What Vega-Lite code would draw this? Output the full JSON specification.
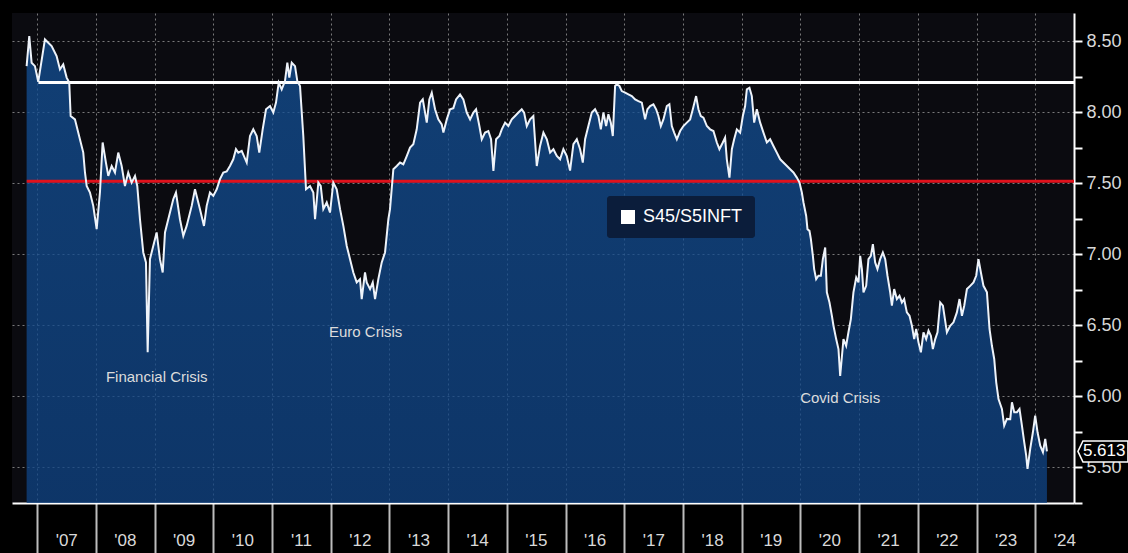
{
"$schema": "https://vega.github.io/schema/vega-lite/v6.json",
"width": 1062, "height": 490,
"autosize": {"type": "none"},
"padding": {"left": 12, "top": 13, "right": 54, "bottom": 50},
"background": "#000000",
"config": {"view": {"fill": "#0b0b10", "stroke": null}, "font": "Liberation Sans"},
"data": {"values": [
{"t":2006.819,"v":8.326},{"t":2006.864,"v":8.537},{"t":2006.904,"v":8.350},{"t":2006.961,"v":8.326},{"t":2007.017,"v":8.215},{"t":2007.131,"v":8.514},{"t":2007.245,"v":8.467},{"t":2007.330,"v":8.397},{"t":2007.387,"v":8.303},{"t":2007.443,"v":8.338},{"t":2007.501,"v":8.245},{"t":2007.545,"v":8.210},{"t":2007.569,"v":7.975},{"t":2007.642,"v":7.951},{"t":2007.727,"v":7.811},{"t":2007.784,"v":7.717},{"t":2007.813,"v":7.577},{"t":2007.842,"v":7.482},{"t":2007.898,"v":7.436},{"t":2007.954,"v":7.342},
{"t":2008.012,"v":7.178},{"t":2008.068,"v":7.436},{"t":2008.114,"v":7.788},{"t":2008.170,"v":7.647},{"t":2008.210,"v":7.553},{"t":2008.268,"v":7.623},{"t":2008.324,"v":7.577},{"t":2008.380,"v":7.717},{"t":2008.438,"v":7.623},{"t":2008.494,"v":7.482},{"t":2008.550,"v":7.577},{"t":2008.608,"v":7.506},{"t":2008.665,"v":7.553},{"t":2008.704,"v":7.482},{"t":2008.750,"v":7.248},{"t":2008.806,"v":7.014},{"t":2008.852,"v":6.944},{"t":2008.881,"v":6.311},{"t":2008.920,"v":6.967},{"t":2008.976,"v":7.060},
{"t":2009.034,"v":7.155},{"t":2009.090,"v":6.967},{"t":2009.137,"v":6.873},{"t":2009.176,"v":7.155},{"t":2009.232,"v":7.248},{"t":2009.317,"v":7.389},{"t":2009.363,"v":7.436},{"t":2009.431,"v":7.248},{"t":2009.488,"v":7.131},{"t":2009.545,"v":7.201},{"t":2009.631,"v":7.342},{"t":2009.687,"v":7.459},{"t":2009.772,"v":7.319},{"t":2009.840,"v":7.201},{"t":2009.886,"v":7.342},{"t":2009.942,"v":7.436},{"t":2009.999,"v":7.412},
{"t":2010.057,"v":7.459},{"t":2010.113,"v":7.530},{"t":2010.169,"v":7.577},{"t":2010.227,"v":7.584},{"t":2010.283,"v":7.623},{"t":2010.339,"v":7.670},{"t":2010.385,"v":7.741},{"t":2010.425,"v":7.717},{"t":2010.483,"v":7.729},{"t":2010.568,"v":7.647},{"t":2010.624,"v":7.834},{"t":2010.680,"v":7.881},{"t":2010.738,"v":7.834},{"t":2010.782,"v":7.717},{"t":2010.840,"v":7.881},{"t":2010.897,"v":8.022},{"t":2010.965,"v":8.045},
{"t":2011.021,"v":7.999},{"t":2011.067,"v":8.069},{"t":2011.113,"v":8.210},{"t":2011.164,"v":8.162},{"t":2011.220,"v":8.221},{"t":2011.260,"v":8.350},{"t":2011.294,"v":8.245},{"t":2011.335,"v":8.350},{"t":2011.391,"v":8.326},{"t":2011.430,"v":8.221},{"t":2011.476,"v":8.186},{"t":2011.532,"v":7.834},{"t":2011.578,"v":7.459},{"t":2011.646,"v":7.482},{"t":2011.703,"v":7.436},{"t":2011.732,"v":7.248},{"t":2011.788,"v":7.506},{"t":2011.829,"v":7.482},{"t":2011.873,"v":7.319},{"t":2011.931,"v":7.366},{"t":2011.987,"v":7.295},
{"t":2012.043,"v":7.506},{"t":2012.101,"v":7.459},{"t":2012.158,"v":7.319},{"t":2012.214,"v":7.201},{"t":2012.272,"v":7.060},{"t":2012.328,"v":6.967},{"t":2012.384,"v":6.873},{"t":2012.442,"v":6.803},{"t":2012.498,"v":6.826},{"t":2012.527,"v":6.686},{"t":2012.583,"v":6.873},{"t":2012.612,"v":6.803},{"t":2012.669,"v":6.756},{"t":2012.715,"v":6.803},{"t":2012.754,"v":6.686},{"t":2012.810,"v":6.826},{"t":2012.868,"v":6.944},{"t":2012.924,"v":7.014},{"t":2012.981,"v":7.248},
{"t":2013.009,"v":7.319},{"t":2013.066,"v":7.600},{"t":2013.124,"v":7.623},{"t":2013.180,"v":7.647},{"t":2013.236,"v":7.635},{"t":2013.294,"v":7.693},{"t":2013.350,"v":7.752},{"t":2013.406,"v":7.776},{"t":2013.464,"v":7.881},{"t":2013.521,"v":8.069},{"t":2013.567,"v":8.092},{"t":2013.606,"v":7.999},{"t":2013.635,"v":7.928},{"t":2013.679,"v":8.092},{"t":2013.720,"v":8.139},{"t":2013.776,"v":8.022},{"t":2013.832,"v":7.951},{"t":2013.890,"v":7.916},{"t":2013.918,"v":7.858},{"t":2013.976,"v":7.951},
{"t":2014.032,"v":8.022},{"t":2014.088,"v":8.030},{"t":2014.134,"v":8.092},{"t":2014.202,"v":8.127},{"t":2014.258,"v":8.092},{"t":2014.316,"v":7.999},{"t":2014.373,"v":7.951},{"t":2014.429,"v":7.999},{"t":2014.475,"v":8.022},{"t":2014.531,"v":7.904},{"t":2014.572,"v":7.811},{"t":2014.628,"v":7.858},{"t":2014.684,"v":7.869},{"t":2014.730,"v":7.811},{"t":2014.770,"v":7.588},{"t":2014.816,"v":7.811},{"t":2014.872,"v":7.834},{"t":2014.913,"v":7.881},{"t":2014.969,"v":7.928},
{"t":2015.025,"v":7.904},{"t":2015.083,"v":7.951},{"t":2015.139,"v":7.975},{"t":2015.196,"v":7.999},{"t":2015.253,"v":8.022},{"t":2015.293,"v":7.999},{"t":2015.339,"v":7.904},{"t":2015.395,"v":7.951},{"t":2015.451,"v":7.975},{"t":2015.509,"v":7.623},{"t":2015.565,"v":7.764},{"t":2015.622,"v":7.858},{"t":2015.680,"v":7.811},{"t":2015.736,"v":7.717},{"t":2015.792,"v":7.741},{"t":2015.850,"v":7.693},{"t":2015.906,"v":7.670},{"t":2015.962,"v":7.741},
{"t":2016.020,"v":7.693},{"t":2016.076,"v":7.590},{"t":2016.133,"v":7.776},{"t":2016.191,"v":7.811},{"t":2016.247,"v":7.741},{"t":2016.293,"v":7.647},{"t":2016.332,"v":7.811},{"t":2016.388,"v":7.904},{"t":2016.446,"v":7.999},{"t":2016.502,"v":8.022},{"t":2016.559,"v":7.975},{"t":2016.600,"v":7.881},{"t":2016.644,"v":7.999},{"t":2016.690,"v":7.904},{"t":2016.729,"v":7.987},{"t":2016.770,"v":7.928},{"t":2016.804,"v":7.834},{"t":2016.843,"v":8.186},{"t":2016.872,"v":8.198},{"t":2016.917,"v":8.186},{"t":2016.957,"v":8.150},
{"t":2017.014,"v":8.139},{"t":2017.070,"v":8.127},{"t":2017.128,"v":8.115},{"t":2017.184,"v":8.092},{"t":2017.240,"v":8.080},{"t":2017.298,"v":8.069},{"t":2017.354,"v":7.951},{"t":2017.394,"v":8.022},{"t":2017.440,"v":8.045},{"t":2017.496,"v":8.057},{"t":2017.542,"v":8.022},{"t":2017.581,"v":7.975},{"t":2017.622,"v":7.904},{"t":2017.666,"v":7.951},{"t":2017.724,"v":8.045},{"t":2017.768,"v":8.057},{"t":2017.809,"v":7.904},{"t":2017.849,"v":7.858},{"t":2017.895,"v":7.811},{"t":2017.951,"v":7.869},
{"t":2018.007,"v":7.904},{"t":2018.065,"v":7.928},{"t":2018.121,"v":7.951},{"t":2018.167,"v":8.022},{"t":2018.223,"v":8.115},{"t":2018.263,"v":8.022},{"t":2018.303,"v":7.975},{"t":2018.348,"v":7.963},{"t":2018.406,"v":7.904},{"t":2018.462,"v":7.881},{"t":2018.518,"v":7.869},{"t":2018.576,"v":7.788},{"t":2018.620,"v":7.741},{"t":2018.678,"v":7.788},{"t":2018.717,"v":7.823},{"t":2018.746,"v":7.670},{"t":2018.791,"v":7.541},{"t":2018.832,"v":7.741},{"t":2018.871,"v":7.811},{"t":2018.917,"v":7.881},{"t":2018.973,"v":7.858},
{"t":2019.019,"v":7.975},{"t":2019.058,"v":8.045},{"t":2019.087,"v":8.162},{"t":2019.132,"v":8.174},{"t":2019.172,"v":8.115},{"t":2019.212,"v":7.928},{"t":2019.257,"v":8.022},{"t":2019.314,"v":7.928},{"t":2019.370,"v":7.858},{"t":2019.428,"v":7.788},{"t":2019.484,"v":7.811},{"t":2019.540,"v":7.764},{"t":2019.598,"v":7.717},{"t":2019.655,"v":7.670},{"t":2019.740,"v":7.635},{"t":2019.825,"v":7.600},{"t":2019.881,"v":7.577},{"t":2019.939,"v":7.541},{"t":2019.984,"v":7.506},
{"t":2020.024,"v":7.436},{"t":2020.052,"v":7.366},{"t":2020.098,"v":7.271},{"t":2020.120,"v":7.178},{"t":2020.154,"v":7.166},{"t":2020.178,"v":7.108},{"t":2020.212,"v":6.990},{"t":2020.234,"v":6.897},{"t":2020.268,"v":6.826},{"t":2020.307,"v":6.850},{"t":2020.348,"v":6.850},{"t":2020.382,"v":6.967},{"t":2020.422,"v":7.049},{"t":2020.450,"v":6.733},{"t":2020.495,"v":6.662},{"t":2020.536,"v":6.568},{"t":2020.563,"v":6.498},{"t":2020.609,"v":6.404},{"t":2020.648,"v":6.334},{"t":2020.677,"v":6.144},{"t":2020.733,"v":6.404},{"t":2020.779,"v":6.357},{"t":2020.818,"v":6.452},{"t":2020.859,"v":6.545},{"t":2020.903,"v":6.733},{"t":2020.950,"v":6.838},{"t":2020.989,"v":6.803},
{"t":2021.018,"v":6.990},{"t":2021.047,"v":6.897},{"t":2021.074,"v":6.733},{"t":2021.120,"v":6.779},{"t":2021.159,"v":6.967},{"t":2021.200,"v":6.990},{"t":2021.234,"v":7.072},{"t":2021.273,"v":6.944},{"t":2021.312,"v":6.897},{"t":2021.358,"v":6.967},{"t":2021.404,"v":7.014},{"t":2021.444,"v":6.967},{"t":2021.483,"v":6.850},{"t":2021.529,"v":6.733},{"t":2021.558,"v":6.639},{"t":2021.597,"v":6.756},{"t":2021.643,"v":6.686},{"t":2021.687,"v":6.709},{"t":2021.728,"v":6.662},{"t":2021.767,"v":6.686},{"t":2021.813,"v":6.592},{"t":2021.858,"v":6.568},{"t":2021.899,"v":6.498},{"t":2021.938,"v":6.404},{"t":2021.972,"v":6.475},
{"t":2022.011,"v":6.381},{"t":2022.052,"v":6.311},{"t":2022.096,"v":6.452},{"t":2022.142,"v":6.404},{"t":2022.182,"v":6.463},{"t":2022.222,"v":6.428},{"t":2022.256,"v":6.334},{"t":2022.296,"v":6.404},{"t":2022.335,"v":6.452},{"t":2022.381,"v":6.662},{"t":2022.427,"v":6.639},{"t":2022.495,"v":6.452},{"t":2022.551,"v":6.498},{"t":2022.607,"v":6.522},{"t":2022.665,"v":6.592},{"t":2022.710,"v":6.686},{"t":2022.751,"v":6.568},{"t":2022.790,"v":6.639},{"t":2022.836,"v":6.756},{"t":2022.892,"v":6.779},{"t":2022.948,"v":6.803},{"t":2022.994,"v":6.850},
{"t":2023.033,"v":6.967},{"t":2023.074,"v":6.873},{"t":2023.118,"v":6.779},{"t":2023.177,"v":6.733},{"t":2023.221,"v":6.475},{"t":2023.262,"v":6.357},{"t":2023.301,"v":6.264},{"t":2023.335,"v":6.100},{"t":2023.374,"v":5.982},{"t":2023.432,"v":5.912},{"t":2023.471,"v":5.795},{"t":2023.517,"v":5.842},{"t":2023.574,"v":5.840},{"t":2023.603,"v":5.959},{"t":2023.642,"v":5.889},{"t":2023.688,"v":5.889},{"t":2023.732,"v":5.912},{"t":2023.773,"v":5.795},{"t":2023.812,"v":5.678},{"t":2023.846,"v":5.584},{"t":2023.868,"v":5.490},{"t":2023.914,"v":5.631},{"t":2023.960,"v":5.748},{"t":2023.999,"v":5.865},
{"t":2024.039,"v":5.748},{"t":2024.085,"v":5.654},{"t":2024.131,"v":5.608},{"t":2024.170,"v":5.701},{"t":2024.199,"v":5.613}
]},
"encoding": {
  "x": {"field": "t", "type": "quantitative",
    "scale": {"domain": [2006.57, 2024.66], "nice": false, "zero": false},
    "axis": {"orient": "bottom", "title": null,
      "values": [2007,2008,2009,2010,2011,2012,2013,2014,2015,2016,2017,2018,2019,2020,2021,2022,2023,2024],
      "labelExpr": "\"'\" + substring(toString(datum.value), 2, 4)",
      "labelOffset": 29, "labelPadding": -13, "labelBaseline": "middle", "labelAlign": "center",
      "labelFontSize": 17, "labelColor": "#d9d9d9", "labelFont": "Liberation Sans",
      "labelFlush": false, "labelOverlap": false,
      "domainColor": "#ffffff", "domainWidth": 2,
      "tickColor": "#bdbdbd", "tickWidth": 2, "tickSize": 50,
      "grid": true, "gridColor": "#a8a8a8", "gridDash": [2, 3], "gridOpacity": 0.7}},
  "y": {"field": "v", "type": "quantitative",
    "scale": {"domain": [5.25, 8.7], "nice": false, "zero": false},
    "axis": {"orient": "right", "title": null,
      "values": [5.25,5.5,5.75,6,6.25,6.5,6.75,7,7.25,7.5,7.75,8,8.25,8.5],
      "labelExpr": "datum.value % 0.5 == 0 ? format(datum.value, '.2f') : ''",
      "labelPadding": 4, "labelColor": "#d8d8d8", "labelFontSize": 18, "labelFont": "Liberation Sans",
      "labelBaseline": "middle", "labelOverlap": false, "labelFlush": false,
      "domainColor": "#ffffff", "domainWidth": 2,
      "tickColor": "#ffffff", "tickWidth": 2, "tickSize": 8,
      "grid": true, "gridColor": "#a8a8a8", "gridDash": [2, 3],
      "gridOpacity": {"condition": {"test": "datum.value % 0.5 != 0", "value": 0}, "value": 0.7}}}
},
"layer": [
  {"mark": {"type": "area", "fillOpacity": 0.76, "clip": true,
     "color": {"gradient": "linear", "x1": 0, "y1": 0, "x2": 0, "y2": 1,
       "stops": [{"offset": 0, "color": "#134f94"}, {"offset": 1, "color": "#072f69"}]}}},
  {"data": {"values": [{"level": 8.21, "start": 2007.02, "end": 2024.66}]},
   "mark": {"type": "rule", "color": "#ffffff", "strokeWidth": 3},
   "encoding": {"x": {"field": "start", "type": "quantitative"}, "x2": {"field": "end"}, "y": {"field": "level", "type": "quantitative"}}},
  {"data": {"values": [{"level": 7.515, "start": 2006.82, "end": 2024.66}]},
   "mark": {"type": "rule", "color": "#e0121c", "strokeWidth": 3},
   "encoding": {"x": {"field": "start", "type": "quantitative"}, "x2": {"field": "end"}, "y": {"field": "level", "type": "quantitative"}}},
  {"mark": {"type": "line", "strokeWidth": 2, "clip": true},
   "encoding": {"color": {"datum": "S45/S5INFT", "type": "nominal", "scale": {"range": ["#eef3fa"]},
     "legend": {"title": null, "orient": "none", "legendX": 595, "legendY": 183,
       "fillColor": "#0b1d3b", "padding": 12, "cornerRadius": 3,
       "symbolType": "square", "symbolSize": 196, "symbolStrokeWidth": 0,
       "labelColor": "#ffffff", "labelFontSize": 18, "labelFont": "Liberation Sans", "labelOffset": 6,
       "encode": {"symbols": {"update": {"fill": {"value": "#ffffff"}, "stroke": {"value": "#ffffff"}, "strokeWidth": {"value": 0}, "opacity": {"value": 1}}}}}}}},
  {"data": {"values": [
     {"label": "Financial Crisis", "t": 2008.17, "v": 6.137},
     {"label": "Euro Crisis", "t": 2011.97, "v": 6.453},
     {"label": "Covid Crisis", "t": 2019.995, "v": 5.99}]},
   "mark": {"type": "text", "align": "left", "baseline": "middle", "fontSize": 15, "color": "#dcdcdc", "font": "Liberation Sans"},
   "encoding": {"text": {"field": "label"}}},
  {"data": {"values": [{"t": 2024.199, "v": 5.613, "label": "5.613"}]},
   "mark": {"type": "point", "shape": "M-1,0L-0.8,-0.42L1,-0.42L1,0.42L-0.8,0.42Z", "size": 2500, "filled": true,
     "fill": "#000000", "stroke": "#ffffff", "strokeWidth": 1.5, "opacity": 1, "xOffset": 56}},
  {"data": {"values": [{"t": 2024.199, "v": 5.613, "label": "5.613"}]},
   "mark": {"type": "text", "align": "left", "baseline": "middle", "dx": 36, "fontSize": 17, "color": "#ffffff", "font": "Liberation Sans"},
   "encoding": {"text": {"field": "label"}}}
]
}
